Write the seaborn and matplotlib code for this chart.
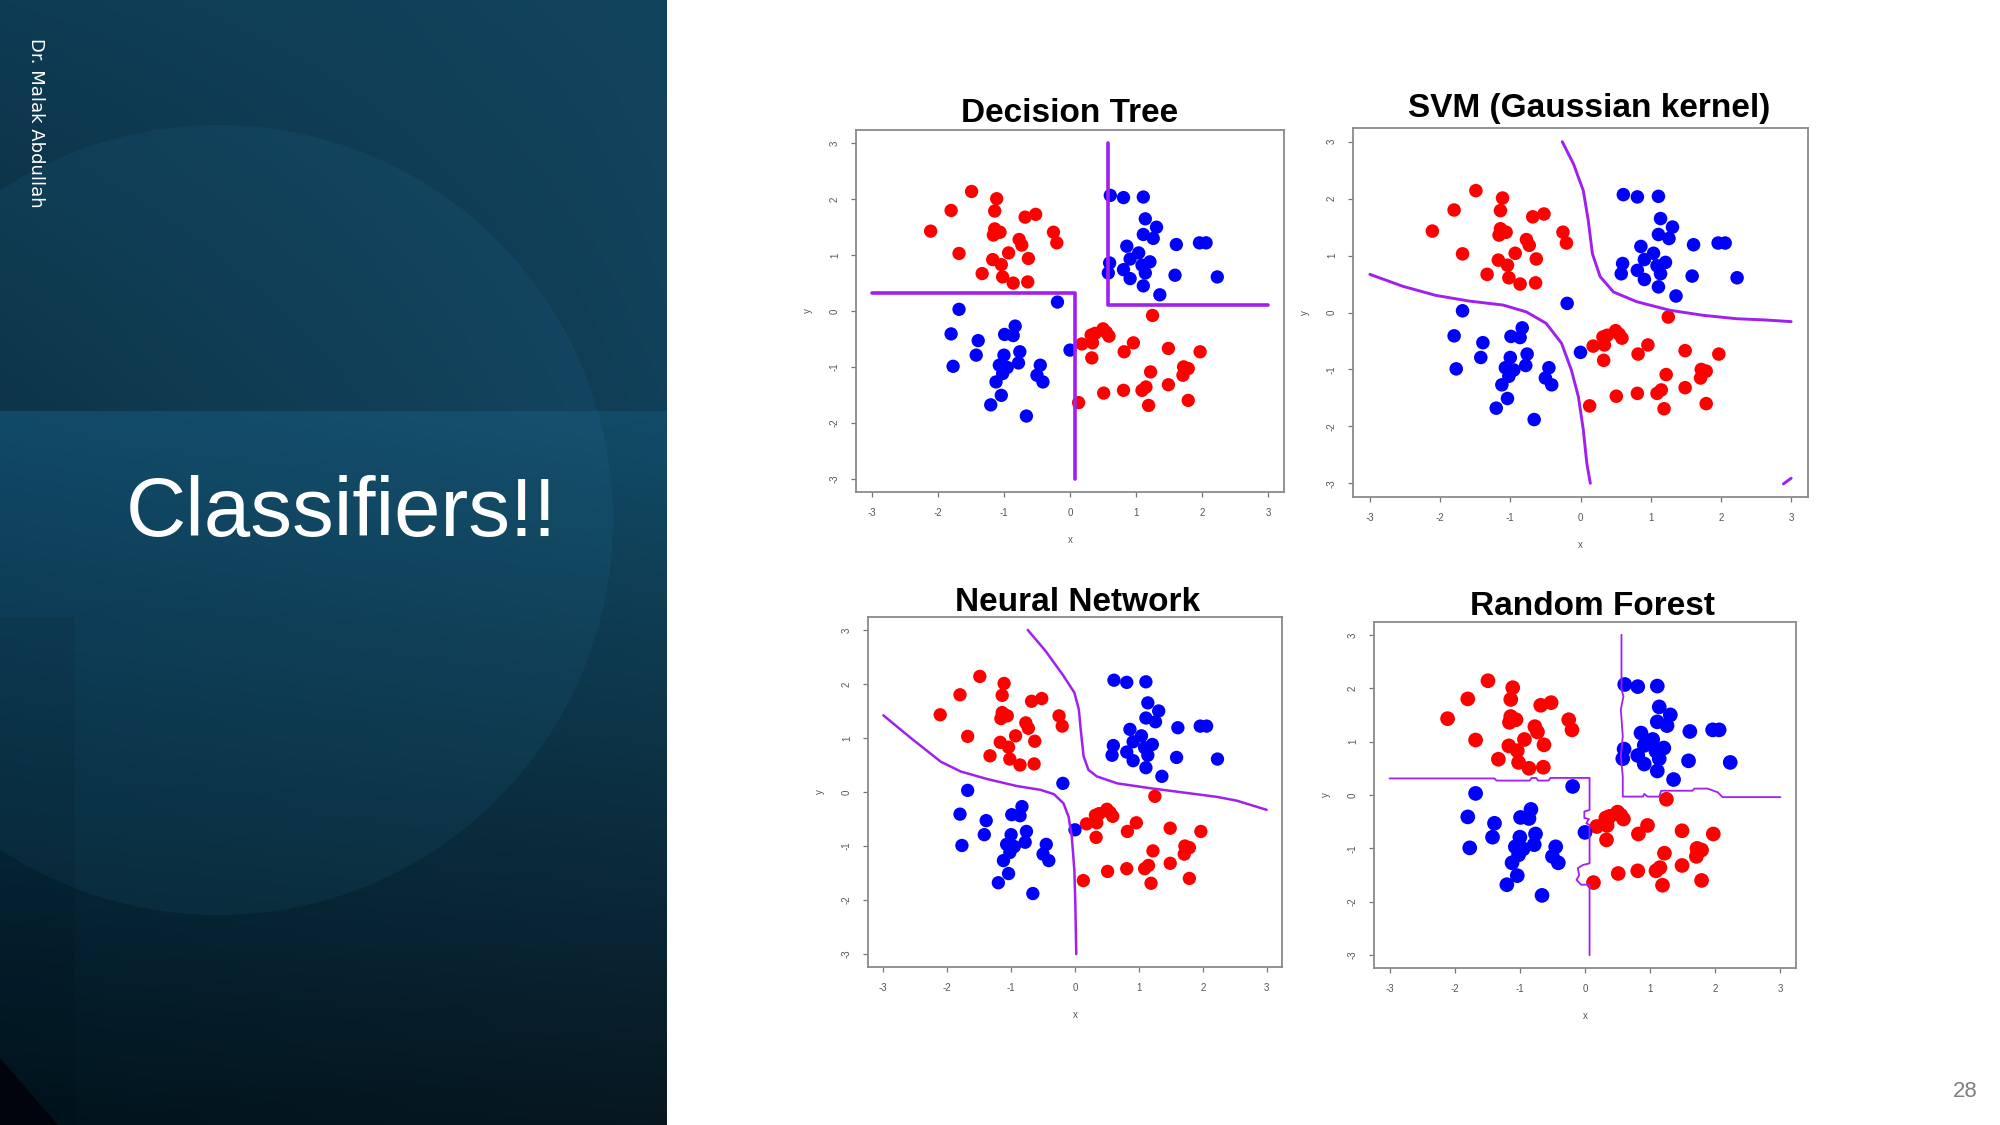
import numpy as np
import pandas as pd
import matplotlib
matplotlib.use("Agg")
import matplotlib.pyplot as plt
import seaborn as sns
from matplotlib.patches import Circle, Rectangle, Polygon

# ---------------- data ----------------
red_x = [-1.49, -1.11, -1.80, -1.14, -0.68, -0.52, -2.11, -1.14, -1.06, -1.16, -0.25, -0.20,
         -0.77, -0.73, -1.68, -0.93, -0.63, -1.17, -1.04, -1.33, -1.02, -0.86, -0.64,
         1.25, 0.50, 0.32, 0.38, 0.55, 0.59, 0.34, 0.18, 0.96, 0.82, 0.33, 1.49, 1.97,
         1.72, 1.79, 1.71, 1.22, 1.49, 0.51, 0.81, 1.09, 1.15, 1.19, 1.79, 0.13]
red_y = [2.14, 2.01, 1.80, 1.79, 1.68, 1.73, 1.43, 1.47, 1.41, 1.36, 1.41, 1.22,
         1.28, 1.18, 1.03, 1.04, 0.94, 0.92, 0.83, 0.67, 0.61, 0.50, 0.52,
         -0.08, -0.32, -0.43, -0.40, -0.38, -0.45, -0.57, -0.59, -0.57, -0.73, -0.84, -0.67, -0.73,
         -1.00, -1.03, -1.15, -1.09, -1.32, -1.47, -1.42, -1.42, -1.36, -1.69, -1.60, -1.64]
blue_x = [0.61, 0.81, 1.11, 1.14, 1.31, 1.11, 1.26, 1.61, 1.96, 2.06, 0.86, 1.04,
          0.91, 0.60, 0.58, 0.81, 1.09, 1.21, 1.14, 0.91, 1.59, 2.23, 1.11, 1.36,
          -0.19, -1.68, -1.80, -1.39, -0.83, -0.99, -0.86, -1.42, -0.76, -1.00, 0.00, -1.77,
          -1.07, -0.95, -0.78, -1.02, -0.45, -0.50, -0.41, -1.12, -1.04, -1.20, -0.66]
blue_y = [2.07, 2.03, 2.04, 1.65, 1.50, 1.37, 1.30, 1.19, 1.22, 1.22, 1.16, 1.04,
          0.93, 0.86, 0.68, 0.74, 0.82, 0.88, 0.68, 0.58, 0.64, 0.61, 0.45, 0.29,
          0.16, 0.03, -0.41, -0.53, -0.27, -0.42, -0.44, -0.79, -0.73, -0.79, -0.70, -0.99,
          -0.97, -1.01, -0.93, -1.12, -0.97, -1.15, -1.27, -1.27, -1.51, -1.68, -1.88]

# decision boundaries (traced)
dt_a_x = [-3.0, 0.08, 0.08]
dt_a_y = [0.33, 0.33, -3.0]
dt_b_x = [0.58, 0.58, 3.0]
dt_b_y = [3.0, 0.11, 0.11]

svm_a_x = [-0.26, -0.10, 0.04, 0.11, 0.17, 0.28, 0.47, 0.80, 1.27, 1.75, 2.23, 2.61, 3.0]
svm_a_y = [3.0, 2.61, 2.14, 1.62, 1.03, 0.63, 0.36, 0.19, 0.04, -0.05, -0.11, -0.13, -0.16]
svm_b_x = [-3.0, -2.53, -2.06, -1.58, -1.10, -0.77, -0.49, -0.27, -0.13, -0.03, 0.04, 0.09, 0.14]
svm_b_y = [0.67, 0.46, 0.30, 0.20, 0.13, 0.01, -0.19, -0.54, -1.01, -1.48, -2.06, -2.65, -3.0]
svm_c_x = [2.89, 3.0]
svm_c_y = [-3.01, -2.91]

nn_a_x = [-0.74, -0.46, -0.18, -0.01, 0.06, 0.09, 0.135, 0.21, 0.34, 0.66, 1.18, 1.70, 2.22, 2.53, 3.0]
nn_a_y = [3.0, 2.61, 2.15, 1.84, 1.53, 1.15, 0.66, 0.41, 0.29, 0.16, 0.07, -0.01, -0.09, -0.16, -0.33]
nn_b_x = [-3.0, -2.57, -2.10, -1.79, -1.375, -0.91, -0.54, -0.33, -0.18, -0.10, -0.05, -0.01, 0.005, 0.02]
nn_b_y = [1.42, 1.00, 0.56, 0.38, 0.24, 0.11, 0.04, -0.04, -0.21, -0.46, -0.83, -1.45, -2.07, -3.0]

rf_a_x = [-3.0, -1.39, -1.36, -0.85, -0.82, -0.75, -0.72, -0.56, -0.53, 0.07, 0.07, -0.01,
          -0.01, 0.06, 0.02, 0.07, 0.07, -0.03, -0.11, -0.09, -0.13, -0.06, 0.07, 0.07]
rf_a_y = [0.31, 0.31, 0.27, 0.27, 0.32, 0.32, 0.27, 0.27, 0.32, 0.32, -0.28, -0.31,
          -0.43, -0.45, -0.53, -0.56, -1.28, -1.31, -1.37, -1.50, -1.59, -1.68, -1.68, -3.0]
rf_b_x = [0.56, 0.56, 0.59, 0.55, 0.58, 0.55, 0.58, 0.58, 0.89, 0.91, 0.96, 1.14, 1.17,
          1.65, 1.68, 1.88, 2.04, 2.11, 3.0]
rf_b_y = [3.0, 1.98, 1.85, 1.60, 1.10, 0.73, 0.35, -0.03, -0.03, 0.02, -0.03, -0.03, 0.08,
          0.08, 0.12, 0.12, 0.05, -0.04, -0.04]

titles = ["Decision Tree", "SVM (Gaussian kernel)", "Neural Network", "Random Forest"]
tick_vals = [-3, -2, -1, 0, 1, 2, 3]
tick_labels = ["-3", "-2", "-1", "0", "1", "2", "3"]

slide_title = "Classifiers!!"
author = "Dr. Malak Abdullah"
page_no = "28"

# ---------------- figure ----------------
sns.set_theme(style="ticks")
plt.rcParams["font.family"] = ["Liberation Sans", "DejaVu Sans"]

W, H = 2000, 1125
fig = plt.figure(figsize=(20, 11.25), dpi=100)
fig.patch.set_facecolor("white")


def fx(px):
    return px / W


def fy(py):
    return 1 - py / H


# left decorative panel
PW = 667
bg = fig.add_axes([0, 0, PW / W, 1])
bg.set_xlim(0, PW)
bg.set_ylim(H, 0)
bg.axis("off")


def hexrgb(h):
    h = h.lstrip("#")
    return np.array([int(h[i:i + 2], 16) / 255 for i in (0, 2, 4)])


yy, xx = np.mgrid[0:H, 0:PW]
u = xx / PW
# upper band
tl, tr, bl, br = map(hexrgb, ["#0e3c54", "#13445e", "#0a2c3d", "#11405a"])
v = np.clip(yy / 411, 0, 1)
up = ((1 - u)[..., None] * ((1 - v)[..., None] * tl + v[..., None] * bl)
      + u[..., None] * ((1 - v)[..., None] * tr + v[..., None] * br))
# lower band
tl2, tr2, bl2, br2 = map(hexrgb, ["#0e4360", "#124c68", "#01141d", "#071720"])
v2 = np.clip((yy - 411) / (H - 411), 0, 1)
lo = ((1 - u)[..., None] * ((1 - v2)[..., None] * tl2 + v2[..., None] * bl2)
      + u[..., None] * ((1 - v2)[..., None] * tr2 + v2[..., None] * br2))
mask = (yy < 411)[..., None]
img = np.where(mask, up, lo)
bg.imshow(img, extent=(0, PW, H, 0), aspect="auto", zorder=0)
bg.add_patch(Circle((218, 520), 395, facecolor="#3a9ccc", alpha=0.08, edgecolor="none", zorder=1))
bg.add_patch(Rectangle((0, 617), 75, H - 617, facecolor="black", alpha=0.07, edgecolor="none", zorder=2))
bg.add_patch(Polygon([(0, 1058), (58, H), (0, H)], closed=True, facecolor="#02040c", edgecolor="none", zorder=3))

fig.text(fx(36), fy(38), author, rotation=270, ha="center", va="top",
         color="white", fontsize=13, family=["DejaVu Sans"])
fig.text(fx(341), fy(536), slide_title, ha="center", va="baseline",
         color="white", fontsize=60, family=["Liberation Sans", "DejaVu Sans"])
fig.text(fx(1978), fy(1097), page_no, ha="right", va="baseline",
         color="#7f7f7f", fontsize=16)

# ---------------- the four classifier panels ----------------
df = pd.DataFrame({
    "x": red_x + blue_x,
    "y": red_y + blue_y,
    "cls": ["red"] * len(red_x) + ["blue"] * len(blue_x),
})
pal = {"red": "#ff0000", "blue": "#0000ff"}
purple = "#a020f0"

panels = [
    dict(box=(856, 130, 1284, 492), tx=1070, ty=122, s=92, lw=2.6,
         lines=[(dt_a_x, dt_a_y), (dt_b_x, dt_b_y)]),
    dict(box=(1353, 128, 1808, 497), tx=1589, ty=117, s=95, lw=2.1,
         lines=[(svm_a_x, svm_a_y), (svm_b_x, svm_b_y), (svm_c_x, svm_c_y)]),
    dict(box=(868, 617, 1282, 967), tx=1078, ty=611, s=92, lw=1.8,
         lines=[(nn_a_x, nn_a_y), (nn_b_x, nn_b_y)]),
    dict(box=(1374, 622, 1796, 968), tx=1593, ty=615, s=112, lw=1.3,
         lines=[(rf_a_x, rf_a_y), (rf_b_x, rf_b_y)]),
]

for title, p in zip(titles, panels):
    l, t, r, b = p["box"]
    ax = fig.add_axes([fx(l), fy(b), (r - l) / W, (b - t) / H])
    ax.set_facecolor("white")
    sns.scatterplot(data=df, x="x", y="y", hue="cls", palette=pal, s=p["s"],
                    linewidth=0, legend=False, ax=ax, zorder=2)
    for bx, by in p["lines"]:
        sns.lineplot(x=bx, y=by, sort=False, estimator=None, color=purple,
                     lw=p["lw"], ax=ax, zorder=3)
    ax.set_xlim(-3.24, 3.24)
    ax.set_ylim(-3.24, 3.24)
    ax.set_xticks(tick_vals)
    ax.set_xticklabels(tick_labels)
    ax.set_yticks(tick_vals)
    ax.set_yticklabels(tick_labels, rotation=90, va="center")
    ax.tick_params(direction="out", length=3.6, width=0.9, color="#777777",
                   labelsize=7, labelcolor="#555555", pad=8)
    for sp in ax.spines.values():
        sp.set_visible(True)
        sp.set_color("#8a8a8a")
        sp.set_linewidth(1.3)
    ax.set_xlabel("x", fontsize=7, color="#555555", labelpad=12)
    ax.set_ylabel("y", fontsize=7, color="#555555", labelpad=12)
    ax.grid(False)
    fig.text(fx(p["tx"]), fy(p["ty"]), title, ha="center", va="baseline",
             fontsize=24, fontweight="bold", color="black")

fig.savefig("out.png", dpi=100, facecolor="white")
